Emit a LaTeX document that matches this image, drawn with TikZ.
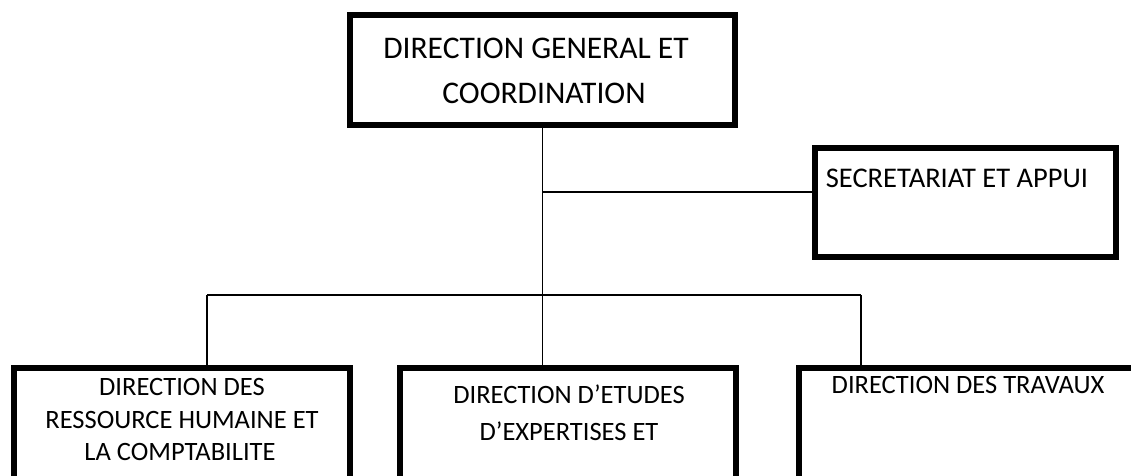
\documentclass[tikz,border=0pt]{standalone}
\usepackage{fontspec}
\setmainfont{Carlito}
\begin{document}
\begin{tikzpicture}[x=1pt,y=-1pt,
  box/.style={draw=black,line width=6pt,rectangle,inner sep=0pt},
  conn/.style={draw=black,line width=1.8pt},
  bigtxt/.style={anchor=base,inner sep=0pt,font=\fontsize{31.5}{31.5}\selectfont},
  sectxt/.style={anchor=base,inner sep=0pt,font=\fontsize{28.5}{28.5}\selectfont},
  txt/.style={anchor=base,inner sep=0pt,font=\fontsize{26.5}{26.5}\selectfont}]
\useasboundingbox (0,0) rectangle (1131,475);
\clip (0,0) rectangle (1131,475);
% boxes
\node[box,minimum width=385pt,minimum height=110pt] (top) at (542.5,70) {};
\node[box,minimum width=301pt,minimum height=109pt] (sec) at (965.5,202.5) {};
\node[box,minimum width=336.5pt,minimum height=200pt,anchor=north] (lb) at (181.75,365) {};
\node[box,minimum width=336pt,minimum height=200pt,anchor=north] (mb) at (568,365) {};
\node[box,minimum width=400pt,minimum height=200pt,anchor=north] (rb) at (999,365) {};
% texts
\node[bigtxt] (t1) at (536,58) {DIRECTION GENERAL ET};
\node[bigtxt] (t2) at (544,103) {COORDINATION};
\node[sectxt] (s1) at (957,187) {SECRETARIAT ET APPUI};
\node[txt] (l1) at (182,395) {DIRECTION DES};
\node[txt] (l2) at (182,428) {RESSOURCE HUMAINE ET};
\node[txt] (l3) at (180,460) {LA COMPTABILITE};
\node[txt] (m1) at (569,403) {DIRECTION D’ETUDES};
\node[txt] (m2) at (569,440) {D’EXPERTISES ET};
\node[txt] (r1) at (968,393) {DIRECTION DES TRAVAUX};
% connectors
\coordinate (jsec) at (542,192);
\coordinate (bl) at (207,295);
\coordinate (br) at (861,295);
\draw[conn] (top.south) -- (top.south |- mb.north);
\draw[conn] (jsec) -- (jsec -| sec.west);
\draw[conn] (bl) -- (br);
\draw[conn] (bl) -- (bl |- lb.north);
\draw[conn] (br) -- (br |- rb.north);
\end{tikzpicture}
\end{document}
